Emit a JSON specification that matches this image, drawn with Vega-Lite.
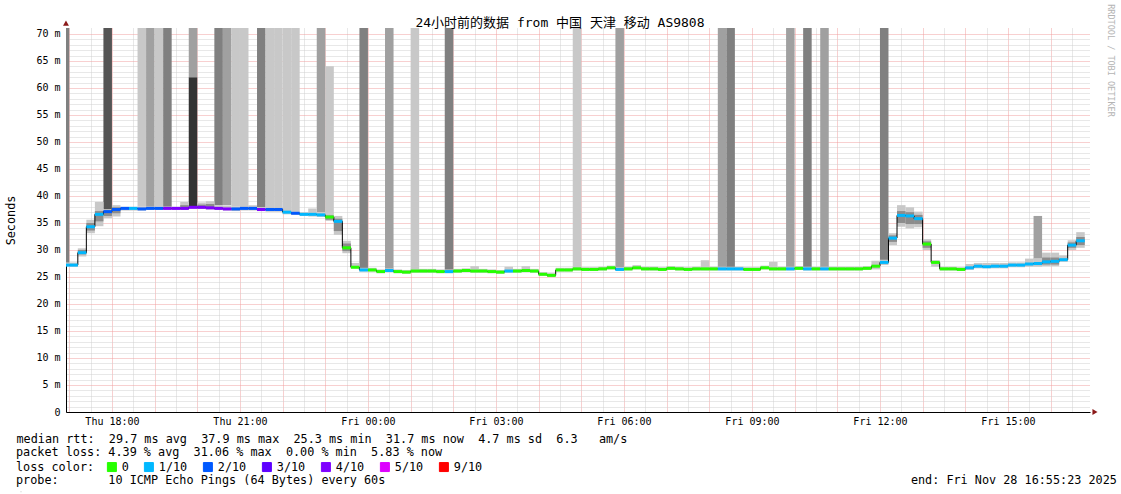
{
"$schema":"https://vega.github.io/schema/vega-lite/v6.json",
"width":1024,"height":384,
"autosize":{"type":"none"},
"padding":{"left":66,"top":28,"right":31,"bottom":82},
"background":"#ffffff",
"title":{"text":"24小时前的数据 from 中国 天津 移动 AS9808","font":"DejaVu Sans Mono, Noto Sans CJK SC","fontSize":13,"fontWeight":"normal","color":"#000000","anchor":"middle","dx":-18,"dy":29,"offset":3},
"datasets":{
"steps":[
{"t":"2025-11-27T16:48","u":"2025-11-27T17:00","m":27.2,"c":"1/10","lo":27.0,"hi":27.7},
{"t":"2025-11-27T17:00","u":"2025-11-27T17:12","m":27.2,"c":"1/10","lo":26.9,"hi":27.7},
{"t":"2025-11-27T17:12","u":"2025-11-27T17:24","m":29.5,"c":"1/10","lo":28.8,"hi":30.3,"l2":29.2,"h2":30.0},
{"t":"2025-11-27T17:24","u":"2025-11-27T17:36","m":34.3,"c":"1/10","lo":33.1,"hi":35.6,"l2":33.6,"h2":35.0},
{"t":"2025-11-27T17:36","u":"2025-11-27T17:48","m":36.6,"c":"1/10","lo":34.4,"hi":38.9,"l2":35.3,"h2":37.2},
{"t":"2025-11-27T17:48","u":"2025-11-27T18:00","m":37.1,"c":"2/10","lo":35.9,"hi":37.5,"l2":36.3,"h2":37.3},
{"t":"2025-11-27T18:00","u":"2025-11-27T18:12","m":37.5,"c":"2/10","lo":36.2,"hi":38.3,"l2":36.8,"h2":37.9},
{"t":"2025-11-27T18:12","u":"2025-11-27T18:24","m":37.7,"c":"2/10","lo":37.3,"hi":38.0},
{"t":"2025-11-27T18:24","u":"2025-11-27T18:36","m":37.7,"c":"1/10","lo":37.3,"hi":38.0},
{"t":"2025-11-27T18:36","u":"2025-11-27T18:48","m":37.6,"c":"2/10","lo":37.3,"hi":38.0},
{"t":"2025-11-27T18:48","u":"2025-11-27T19:00","m":37.7,"c":"2/10","lo":37.4,"hi":38.0},
{"t":"2025-11-27T19:00","u":"2025-11-27T19:12","m":37.7,"c":"2/10","lo":37.4,"hi":38.0},
{"t":"2025-11-27T19:12","u":"2025-11-27T19:24","m":37.7,"c":"4/10","lo":37.4,"hi":38.0},
{"t":"2025-11-27T19:24","u":"2025-11-27T19:36","m":37.7,"c":"4/10","lo":37.4,"hi":38.0},
{"t":"2025-11-27T19:36","u":"2025-11-27T19:48","m":37.7,"c":"4/10","lo":37.4,"hi":38.9,"l2":37.5,"h2":38.3},
{"t":"2025-11-27T19:48","u":"2025-11-27T20:00","m":37.9,"c":"4/10","lo":37.6,"hi":38.1},
{"t":"2025-11-27T20:00","u":"2025-11-27T20:12","m":37.9,"c":"4/10","lo":37.6,"hi":38.8,"l2":37.7,"h2":38.4},
{"t":"2025-11-27T20:12","u":"2025-11-27T20:24","m":37.8,"c":"4/10","lo":37.5,"hi":39.0,"l2":37.6,"h2":38.5},
{"t":"2025-11-27T20:24","u":"2025-11-27T20:36","m":37.7,"c":"4/10","lo":37.4,"hi":38.3},
{"t":"2025-11-27T20:36","u":"2025-11-27T20:48","m":37.6,"c":"4/10","lo":37.3,"hi":38.2},
{"t":"2025-11-27T20:48","u":"2025-11-27T21:00","m":37.6,"c":"2/10","lo":37.2,"hi":38.0},
{"t":"2025-11-27T21:00","u":"2025-11-27T21:12","m":37.7,"c":"2/10","lo":37.3,"hi":38.2},
{"t":"2025-11-27T21:12","u":"2025-11-27T21:24","m":37.7,"c":"2/10","lo":37.3,"hi":38.3},
{"t":"2025-11-27T21:24","u":"2025-11-27T21:36","m":37.5,"c":"4/10","lo":37.2,"hi":37.9},
{"t":"2025-11-27T21:36","u":"2025-11-27T21:48","m":37.5,"c":"2/10","lo":37.1,"hi":37.9},
{"t":"2025-11-27T21:48","u":"2025-11-27T22:00","m":37.5,"c":"2/10","lo":37.1,"hi":37.9},
{"t":"2025-11-27T22:00","u":"2025-11-27T22:12","m":37.0,"c":"1/10","lo":36.6,"hi":37.5},
{"t":"2025-11-27T22:12","u":"2025-11-27T22:24","m":36.8,"c":"2/10","lo":36.5,"hi":37.1},
{"t":"2025-11-27T22:24","u":"2025-11-27T22:36","m":36.6,"c":"1/10","lo":36.3,"hi":37.0},
{"t":"2025-11-27T22:36","u":"2025-11-27T22:48","m":36.6,"c":"1/10","lo":36.2,"hi":37.7},
{"t":"2025-11-27T22:48","u":"2025-11-27T23:00","m":36.5,"c":"1/10","lo":36.1,"hi":37.0},
{"t":"2025-11-27T23:00","u":"2025-11-27T23:12","m":36.1,"c":"0","lo":35.4,"hi":36.8,"l2":35.6,"h2":36.4},
{"t":"2025-11-27T23:12","u":"2025-11-27T23:24","m":35.3,"c":"1/10","lo":32.8,"hi":36.3,"l2":33.5,"h2":35.8},
{"t":"2025-11-27T23:24","u":"2025-11-27T23:36","m":30.4,"c":"0","lo":29.4,"hi":31.7,"l2":29.8,"h2":31.2},
{"t":"2025-11-27T23:36","u":"2025-11-27T23:48","m":26.8,"c":"0","lo":26.6,"hi":27.6},
{"t":"2025-11-27T23:48","u":"2025-11-28T00:00","m":26.3,"c":"1/10","lo":26.0,"hi":26.7},
{"t":"2025-11-28T00:00","u":"2025-11-28T00:12","m":26.3,"c":"0","lo":26.0,"hi":26.7},
{"t":"2025-11-28T00:12","u":"2025-11-28T00:24","m":26.0,"c":"0","lo":25.7,"hi":26.4},
{"t":"2025-11-28T00:24","u":"2025-11-28T00:36","m":26.2,"c":"1/10","lo":25.9,"hi":26.6},
{"t":"2025-11-28T00:36","u":"2025-11-28T00:48","m":26.0,"c":"0","lo":25.7,"hi":26.4},
{"t":"2025-11-28T00:48","u":"2025-11-28T01:00","m":25.9,"c":"0","lo":25.6,"hi":26.3},
{"t":"2025-11-28T01:00","u":"2025-11-28T01:12","m":26.1,"c":"0","lo":25.8,"hi":26.5},
{"t":"2025-11-28T01:12","u":"2025-11-28T01:24","m":26.1,"c":"0","lo":25.8,"hi":26.5},
{"t":"2025-11-28T01:24","u":"2025-11-28T01:36","m":26.1,"c":"0","lo":25.8,"hi":26.5},
{"t":"2025-11-28T01:36","u":"2025-11-28T01:48","m":26.0,"c":"0","lo":25.7,"hi":26.4},
{"t":"2025-11-28T01:48","u":"2025-11-28T02:00","m":26.0,"c":"1/10","lo":25.7,"hi":26.4},
{"t":"2025-11-28T02:00","u":"2025-11-28T02:12","m":26.1,"c":"0","lo":25.8,"hi":26.5},
{"t":"2025-11-28T02:12","u":"2025-11-28T02:24","m":26.2,"c":"0","lo":25.9,"hi":26.6},
{"t":"2025-11-28T02:24","u":"2025-11-28T02:36","m":26.1,"c":"0","lo":25.8,"hi":27.0},
{"t":"2025-11-28T02:36","u":"2025-11-28T02:48","m":26.1,"c":"0","lo":25.8,"hi":26.5},
{"t":"2025-11-28T02:48","u":"2025-11-28T03:00","m":26.0,"c":"0","lo":25.7,"hi":26.4},
{"t":"2025-11-28T03:00","u":"2025-11-28T03:12","m":25.9,"c":"0","lo":25.6,"hi":26.3},
{"t":"2025-11-28T03:12","u":"2025-11-28T03:24","m":26.1,"c":"1/10","lo":25.8,"hi":26.9},
{"t":"2025-11-28T03:24","u":"2025-11-28T03:36","m":26.1,"c":"0","lo":25.8,"hi":26.5},
{"t":"2025-11-28T03:36","u":"2025-11-28T03:48","m":26.2,"c":"0","lo":25.9,"hi":27.0},
{"t":"2025-11-28T03:48","u":"2025-11-28T04:00","m":26.1,"c":"0","lo":25.8,"hi":26.5},
{"t":"2025-11-28T04:00","u":"2025-11-28T04:12","m":25.5,"c":"0","lo":25.2,"hi":25.9},
{"t":"2025-11-28T04:12","u":"2025-11-28T04:24","m":25.3,"c":"0","lo":25.0,"hi":25.7},
{"t":"2025-11-28T04:24","u":"2025-11-28T04:36","m":26.3,"c":"0","lo":26.0,"hi":26.7},
{"t":"2025-11-28T04:36","u":"2025-11-28T04:48","m":26.3,"c":"0","lo":26.0,"hi":26.7},
{"t":"2025-11-28T04:48","u":"2025-11-28T05:00","m":26.5,"c":"0","lo":26.2,"hi":26.9},
{"t":"2025-11-28T05:00","u":"2025-11-28T05:12","m":26.4,"c":"0","lo":26.1,"hi":26.8},
{"t":"2025-11-28T05:12","u":"2025-11-28T05:24","m":26.4,"c":"0","lo":26.1,"hi":26.8},
{"t":"2025-11-28T05:24","u":"2025-11-28T05:36","m":26.5,"c":"0","lo":26.2,"hi":26.9},
{"t":"2025-11-28T05:36","u":"2025-11-28T05:48","m":26.7,"c":"0","lo":26.4,"hi":27.1},
{"t":"2025-11-28T05:48","u":"2025-11-28T06:00","m":26.4,"c":"1/10","lo":26.1,"hi":26.8},
{"t":"2025-11-28T06:00","u":"2025-11-28T06:12","m":26.5,"c":"0","lo":26.2,"hi":26.9},
{"t":"2025-11-28T06:12","u":"2025-11-28T06:24","m":26.7,"c":"0","lo":26.4,"hi":27.2},
{"t":"2025-11-28T06:24","u":"2025-11-28T06:36","m":26.5,"c":"0","lo":26.2,"hi":26.9},
{"t":"2025-11-28T06:36","u":"2025-11-28T06:48","m":26.5,"c":"0","lo":26.2,"hi":26.9},
{"t":"2025-11-28T06:48","u":"2025-11-28T07:00","m":26.4,"c":"0","lo":26.1,"hi":26.8},
{"t":"2025-11-28T07:00","u":"2025-11-28T07:12","m":26.6,"c":"0","lo":26.3,"hi":27.0},
{"t":"2025-11-28T07:12","u":"2025-11-28T07:24","m":26.5,"c":"0","lo":26.2,"hi":26.9},
{"t":"2025-11-28T07:24","u":"2025-11-28T07:36","m":26.4,"c":"0","lo":26.1,"hi":26.8},
{"t":"2025-11-28T07:36","u":"2025-11-28T07:48","m":26.5,"c":"0","lo":26.2,"hi":26.9},
{"t":"2025-11-28T07:48","u":"2025-11-28T08:00","m":26.5,"c":"0","lo":26.2,"hi":28.1},
{"t":"2025-11-28T08:00","u":"2025-11-28T08:12","m":26.5,"c":"0","lo":26.2,"hi":26.9},
{"t":"2025-11-28T08:12","u":"2025-11-28T08:24","m":26.5,"c":"1/10","lo":26.2,"hi":26.9},
{"t":"2025-11-28T08:24","u":"2025-11-28T08:36","m":26.5,"c":"1/10","lo":26.2,"hi":26.9},
{"t":"2025-11-28T08:36","u":"2025-11-28T08:48","m":26.5,"c":"1/10","lo":26.2,"hi":26.9},
{"t":"2025-11-28T08:48","u":"2025-11-28T09:00","m":26.4,"c":"0","lo":26.1,"hi":26.8},
{"t":"2025-11-28T09:00","u":"2025-11-28T09:12","m":26.4,"c":"0","lo":26.1,"hi":26.8},
{"t":"2025-11-28T09:12","u":"2025-11-28T09:24","m":26.7,"c":"0","lo":26.4,"hi":27.1},
{"t":"2025-11-28T09:24","u":"2025-11-28T09:36","m":26.5,"c":"0","lo":26.2,"hi":27.8},
{"t":"2025-11-28T09:36","u":"2025-11-28T09:48","m":26.5,"c":"0","lo":26.2,"hi":26.9},
{"t":"2025-11-28T09:48","u":"2025-11-28T10:00","m":26.5,"c":"1/10","lo":26.2,"hi":26.9},
{"t":"2025-11-28T10:00","u":"2025-11-28T10:12","m":26.6,"c":"0","lo":26.3,"hi":27.0},
{"t":"2025-11-28T10:12","u":"2025-11-28T10:24","m":26.5,"c":"1/10","lo":26.2,"hi":26.9},
{"t":"2025-11-28T10:24","u":"2025-11-28T10:36","m":26.5,"c":"0","lo":26.2,"hi":26.9},
{"t":"2025-11-28T10:36","u":"2025-11-28T10:48","m":26.5,"c":"1/10","lo":26.2,"hi":26.9},
{"t":"2025-11-28T10:48","u":"2025-11-28T11:00","m":26.5,"c":"0","lo":26.2,"hi":26.9},
{"t":"2025-11-28T11:00","u":"2025-11-28T11:12","m":26.5,"c":"0","lo":26.2,"hi":26.9},
{"t":"2025-11-28T11:12","u":"2025-11-28T11:24","m":26.5,"c":"0","lo":26.2,"hi":26.9},
{"t":"2025-11-28T11:24","u":"2025-11-28T11:36","m":26.5,"c":"0","lo":26.2,"hi":26.9},
{"t":"2025-11-28T11:36","u":"2025-11-28T11:48","m":26.6,"c":"0","lo":26.3,"hi":27.0},
{"t":"2025-11-28T11:48","u":"2025-11-28T12:00","m":27.0,"c":"0","lo":26.4,"hi":28.0},
{"t":"2025-11-28T12:00","u":"2025-11-28T12:12","m":27.7,"c":"1/10","lo":27.2,"hi":28.2},
{"t":"2025-11-28T12:12","u":"2025-11-28T12:24","m":32.2,"c":"1/10","lo":30.9,"hi":33.1,"l2":31.5,"h2":32.7},
{"t":"2025-11-28T12:24","u":"2025-11-28T12:36","m":36.4,"c":"1/10","lo":34.3,"hi":38.3,"l2":35.0,"h2":37.2},
{"t":"2025-11-28T12:36","u":"2025-11-28T12:48","m":36.3,"c":"1/10","lo":34.0,"hi":37.9,"l2":34.8,"h2":37.0},
{"t":"2025-11-28T12:48","u":"2025-11-28T13:00","m":35.8,"c":"1/10","lo":34.2,"hi":37.1,"l2":34.8,"h2":36.5},
{"t":"2025-11-28T13:00","u":"2025-11-28T13:12","m":31.1,"c":"0","lo":30.0,"hi":32.0,"l2":30.4,"h2":31.6},
{"t":"2025-11-28T13:12","u":"2025-11-28T13:24","m":27.7,"c":"0","lo":26.9,"hi":28.1},
{"t":"2025-11-28T13:24","u":"2025-11-28T13:36","m":26.5,"c":"0","lo":26.2,"hi":26.9},
{"t":"2025-11-28T13:36","u":"2025-11-28T13:48","m":26.5,"c":"0","lo":26.2,"hi":26.9},
{"t":"2025-11-28T13:48","u":"2025-11-28T14:00","m":26.4,"c":"0","lo":26.1,"hi":26.8},
{"t":"2025-11-28T14:00","u":"2025-11-28T14:12","m":26.7,"c":"1/10","lo":26.3,"hi":27.4},
{"t":"2025-11-28T14:12","u":"2025-11-28T14:24","m":27.0,"c":"1/10","lo":26.6,"hi":27.6},
{"t":"2025-11-28T14:24","u":"2025-11-28T14:36","m":26.9,"c":"1/10","lo":26.6,"hi":27.6},
{"t":"2025-11-28T14:36","u":"2025-11-28T14:48","m":27.0,"c":"1/10","lo":26.6,"hi":27.6},
{"t":"2025-11-28T14:48","u":"2025-11-28T15:00","m":27.0,"c":"1/10","lo":26.6,"hi":27.6},
{"t":"2025-11-28T15:00","u":"2025-11-28T15:12","m":27.2,"c":"1/10","lo":26.8,"hi":27.7},
{"t":"2025-11-28T15:12","u":"2025-11-28T15:24","m":27.2,"c":"1/10","lo":26.8,"hi":27.7},
{"t":"2025-11-28T15:24","u":"2025-11-28T15:36","m":27.4,"c":"1/10","lo":26.9,"hi":28.4},
{"t":"2025-11-28T15:36","u":"2025-11-28T15:48","m":27.5,"c":"1/10","lo":26.9,"hi":28.5},
{"t":"2025-11-28T15:48","u":"2025-11-28T16:00","m":27.8,"c":"1/10","lo":27.0,"hi":29.5,"l2":27.3,"h2":28.6},
{"t":"2025-11-28T16:00","u":"2025-11-28T16:12","m":27.9,"c":"1/10","lo":27.0,"hi":29.5,"l2":27.3,"h2":28.6},
{"t":"2025-11-28T16:12","u":"2025-11-28T16:24","m":28.2,"c":"1/10","lo":27.8,"hi":29.0},
{"t":"2025-11-28T16:24","u":"2025-11-28T16:36","m":30.9,"c":"1/10","lo":30.0,"hi":31.8,"l2":30.4,"h2":31.4},
{"t":"2025-11-28T16:36","u":"2025-11-28T16:48","m":31.7,"c":"1/10","lo":30.4,"hi":33.3,"l2":30.9,"h2":32.4}
],
"spikes":[
{"t":"2025-11-27T16:48","u":"2025-11-27T17:00","b":27.5,"e":75,"s":3},
{"t":"2025-11-27T17:48","u":"2025-11-27T18:00","b":37.5,"e":75,"s":4},
{"t":"2025-11-27T18:36","u":"2025-11-27T18:48","b":38.0,"e":75,"s":1},
{"t":"2025-11-27T18:48","u":"2025-11-27T19:00","b":38.0,"e":75,"s":2},
{"t":"2025-11-27T19:00","u":"2025-11-27T19:12","b":38.0,"e":75,"s":1},
{"t":"2025-11-27T19:12","u":"2025-11-27T19:24","b":38.0,"e":75,"s":3},
{"t":"2025-11-27T19:48","u":"2025-11-27T20:00","b":38.0,"e":62.0,"s":5},
{"t":"2025-11-27T19:48","u":"2025-11-27T20:00","b":62.0,"e":75,"s":2},
{"t":"2025-11-27T20:24","u":"2025-11-27T20:36","b":38.3,"e":75,"s":3},
{"t":"2025-11-27T20:36","u":"2025-11-27T20:48","b":38.3,"e":75,"s":2},
{"t":"2025-11-27T20:48","u":"2025-11-27T21:00","b":38.0,"e":75,"s":1},
{"t":"2025-11-27T21:00","u":"2025-11-27T21:12","b":38.0,"e":75,"s":1},
{"t":"2025-11-27T21:24","u":"2025-11-27T21:36","b":37.9,"e":75,"s":3},
{"t":"2025-11-27T21:36","u":"2025-11-27T21:48","b":37.8,"e":75,"s":1},
{"t":"2025-11-27T21:48","u":"2025-11-27T22:00","b":37.8,"e":75,"s":1},
{"t":"2025-11-27T22:00","u":"2025-11-27T22:12","b":37.4,"e":75,"s":1},
{"t":"2025-11-27T22:12","u":"2025-11-27T22:24","b":37.1,"e":75,"s":1},
{"t":"2025-11-27T22:48","u":"2025-11-27T23:00","b":37.0,"e":75,"s":2},
{"t":"2025-11-27T23:00","u":"2025-11-27T23:12","b":36.7,"e":64.0,"s":1},
{"t":"2025-11-27T23:48","u":"2025-11-28T00:00","b":26.6,"e":75,"s":3},
{"t":"2025-11-28T00:24","u":"2025-11-28T00:36","b":26.5,"e":75,"s":2},
{"t":"2025-11-28T01:00","u":"2025-11-28T01:12","b":26.5,"e":75,"s":1},
{"t":"2025-11-28T01:48","u":"2025-11-28T02:00","b":26.3,"e":75,"s":3},
{"t":"2025-11-28T04:48","u":"2025-11-28T05:00","b":26.8,"e":75,"s":1},
{"t":"2025-11-28T05:48","u":"2025-11-28T06:00","b":26.7,"e":75,"s":2},
{"t":"2025-11-28T08:12","u":"2025-11-28T08:24","b":26.8,"e":75,"s":2},
{"t":"2025-11-28T08:24","u":"2025-11-28T08:36","b":26.8,"e":75,"s":3},
{"t":"2025-11-28T09:48","u":"2025-11-28T10:00","b":26.8,"e":75,"s":2},
{"t":"2025-11-28T10:12","u":"2025-11-28T10:24","b":26.8,"e":75,"s":3},
{"t":"2025-11-28T10:36","u":"2025-11-28T10:48","b":26.8,"e":75,"s":2},
{"t":"2025-11-28T12:00","u":"2025-11-28T12:12","b":28.0,"e":75,"s":3},
{"t":"2025-11-28T15:36","u":"2025-11-28T15:48","b":28.0,"e":36.3,"s":2}
]
},
"layer":[
{"data":{"name":"spikes"},
 "mark":{"type":"bar","clip":true},
 "encoding":{
  "x":{"field":"t","type":"temporal",
   "scale":{"domain":[{"year":2025,"month":11,"date":27,"hours":16,"minutes":55,"seconds":23},{"year":2025,"month":11,"date":28,"hours":16,"minutes":55,"seconds":23}]},
   "axis":{"tickCount":48,
    "labelExpr":"minutes(datum.value)==0 && hours(datum.value)%3==0 ? timeFormat(datum.value, '%a %H:%M') : ''",
    "labelFont":"DejaVu Sans Mono","labelFontSize":10,"labelColor":"#000000","labelOverlap":false,"labelFlush":false,"labelPadding":4,
    "ticks":false,
    "gridColor":{"condition":{"test":"minutes(datum.value)==0","value":"#f0a0a0"},"value":"#d0d0d0"},
    "gridDash":[1,1],"domainColor":"#000000",
    "title":"median\u00a0rtt:\u00a0\u00a029.7\u00a0ms\u00a0avg\u00a0\u00a037.9\u00a0ms\u00a0max\u00a0\u00a025.3\u00a0ms\u00a0min\u00a0\u00a031.7\u00a0ms\u00a0now\u00a0\u00a04.7\u00a0ms\u00a0sd\u00a0\u00a06.3\u00a0\u00a0\u00a0am/s",
    "titleFont":"DejaVu Sans Mono","titleFontSize":11.8,"titleFontWeight":"normal","titleColor":"#000000",
    "titleAnchor":"start","titleAlign":"left","titleBaseline":"top","titleX":-50,"titleY":21}},
  "x2":{"field":"u"},
  "y":{"field":"b","type":"quantitative","scale":{"domain":[0,71.1],"nice":false,"zero":false},
   "axis":{"values":[0,1,2,3,4,5,6,7,8,9,10,11,12,13,14,15,16,17,18,19,20,21,22,23,24,25,26,27,28,29,30,31,32,33,34,35,36,37,38,39,40,41,42,43,44,45,46,47,48,49,50,51,52,53,54,55,56,57,58,59,60,61,62,63,64,65,66,67,68,69,70],
    "labelExpr":"datum.value % 5 == 0 ? (datum.value == 0 ? '0\u00a0\u00a0' : datum.value + '\u00a0m') : ''",
    "labelFont":"DejaVu Sans Mono","labelFontSize":10,"labelColor":"#000000","labelOverlap":false,"labelFlush":false,"labelPadding":6,
    "ticks":false,"domainColor":"#000000",
    "gridColor":{"condition":{"test":"datum.value % 5 == 0","value":"#f0a0a0"},"value":"#d0d0d0"},"gridDash":[1,1],
    "title":"Seconds","titleFont":"DejaVu Sans Mono","titleFontSize":11.8,"titleFontWeight":"normal","titleColor":"#000000",
    "titleX":-56,"titleY":192,"titleAngle":270,"titleAlign":"center","titleBaseline":"middle"}},
  "y2":{"field":"e"},
  "fill":{"field":"s","type":"ordinal","scale":{"domain":[1,2,3,4,5],"range":["#c8c8c8","#a0a0a0","#808080","#555555","#333333"]},
   "legend":{"orient":"none","legendX":-50,"legendY":419,"padding":0,"direction":"vertical",
    "title":"packet\u00a0loss:\u00a04.39\u00a0%\u00a0avg\u00a0\u00a031.06\u00a0%\u00a0max\u00a0\u00a00.00\u00a0%\u00a0min\u00a0\u00a05.83\u00a0%\u00a0now",
    "titleFont":"DejaVu Sans Mono","titleFontSize":11.8,"titleFontWeight":"normal","titleColor":"#000000","titleLimit":2000,"titlePadding":0,
    "symbolOpacity":0,"symbolSize":1,"labelExpr":"''","labelOpacity":0}}
 }},
{"data":{"name":"steps"},
 "mark":{"type":"bar","clip":true,"color":"#c8c8c8"},
 "encoding":{
  "x":{"field":"t","type":"temporal","scale":{"domain":[{"year":2025,"month":11,"date":27,"hours":16,"minutes":55,"seconds":23},{"year":2025,"month":11,"date":28,"hours":16,"minutes":55,"seconds":23}]}},
  "x2":{"field":"u"},
  "y":{"field":"lo","type":"quantitative","axis":null,"scale":{"domain":[0,71.1],"nice":false,"zero":false}},
  "y2":{"field":"hi"},
  "opacity":{"field":"hi","type":"quantitative","scale":{"range":[1,1]},
   "legend":{"orient":"none","legendX":-50,"legendY":447,"padding":0,"direction":"vertical",
    "title":"probe:\u00a0\u00a0\u00a0\u00a0\u00a0\u00a0\u00a010\u00a0ICMP\u00a0Echo\u00a0Pings\u00a0(64\u00a0Bytes)\u00a0every\u00a060s\u00a0\u00a0\u00a0\u00a0\u00a0\u00a0\u00a0\u00a0\u00a0\u00a0\u00a0\u00a0\u00a0\u00a0\u00a0\u00a0\u00a0\u00a0\u00a0\u00a0\u00a0\u00a0\u00a0\u00a0\u00a0\u00a0\u00a0\u00a0\u00a0\u00a0\u00a0\u00a0\u00a0\u00a0\u00a0\u00a0\u00a0\u00a0\u00a0\u00a0\u00a0\u00a0\u00a0\u00a0\u00a0\u00a0\u00a0\u00a0\u00a0\u00a0\u00a0\u00a0\u00a0\u00a0\u00a0\u00a0\u00a0\u00a0\u00a0\u00a0\u00a0\u00a0\u00a0\u00a0\u00a0\u00a0\u00a0\u00a0\u00a0\u00a0\u00a0\u00a0\u00a0\u00a0end:\u00a0Fri\u00a0Nov\u00a028\u00a016:55:23\u00a02025",
    "titleFont":"DejaVu Sans Mono","titleFontSize":11.8,"titleFontWeight":"normal","titleColor":"#000000","titleLimit":2000,"titlePadding":0,
    "symbolOpacity":0,"symbolSize":1,"labelExpr":"''","labelOpacity":0}}
 }},
{"data":{"name":"steps"},
 "transform":[{"filter":"isValid(datum.l2)"}],
 "mark":{"type":"bar","clip":true,"color":"#8c8c8c"},
 "encoding":{
  "x":{"field":"t","type":"temporal","scale":{"domain":[{"year":2025,"month":11,"date":27,"hours":16,"minutes":55,"seconds":23},{"year":2025,"month":11,"date":28,"hours":16,"minutes":55,"seconds":23}]}},
  "x2":{"field":"u"},
  "y":{"field":"l2","type":"quantitative","axis":null,"scale":{"domain":[0,71.1],"nice":false,"zero":false}},
  "y2":{"field":"h2"}
 }},
{"data":{"name":"steps"},
 "mark":{"type":"line","clip":true,"interpolate":"step-after","color":"#000000","strokeWidth":1},
 "encoding":{
  "x":{"field":"t","type":"temporal","scale":{"domain":[{"year":2025,"month":11,"date":27,"hours":16,"minutes":55,"seconds":23},{"year":2025,"month":11,"date":28,"hours":16,"minutes":55,"seconds":23}]}},
  "y":{"field":"m","type":"quantitative","axis":null,"scale":{"domain":[0,71.1],"nice":false,"zero":false}}
 }},
{"data":{"name":"steps"},
 "mark":{"type":"rule","clip":true,"strokeWidth":3,"strokeCap":"butt"},
 "encoding":{
  "x":{"field":"t","type":"temporal","scale":{"domain":[{"year":2025,"month":11,"date":27,"hours":16,"minutes":55,"seconds":23},{"year":2025,"month":11,"date":28,"hours":16,"minutes":55,"seconds":23}]}},
  "x2":{"field":"u"},
  "y":{"field":"m","type":"quantitative","scale":{"domain":[0,71.1],"nice":false,"zero":false},
   "axis":{"orient":"right","labels":false,"ticks":false,"domain":false,"grid":false,
    "title":"RRDTOOL / TOBI OETIKER","titleFont":"DejaVu Sans Mono","titleFontSize":8.5,"titleFontWeight":"normal","titleColor":"#b4b4b4",
    "titleAngle":90,"titleX":20,"titleY":32,"titleAlign":"center","titleBaseline":"middle"}},
  "color":{"field":"c","type":"nominal",
   "scale":{"domain":["0","1/10","2/10","3/10","4/10","5/10","9/10"],"range":["#26ff00","#00b8ff","#0059ff","#5e00ff","#7e00ff","#dd00ff","#ff0000"]},
   "legend":{"orient":"none","legendX":-50,"legendY":433,"direction":"horizontal","padding":0,
    "title":"loss\u00a0color:","titleOrient":"left","titleFont":"DejaVu Sans Mono","titleFontSize":11.8,"titleFontWeight":"normal","titleColor":"#000000","titlePadding":11,"titleLimit":500,
    "labelFont":"DejaVu Sans Mono","labelFontSize":11.8,"labelColor":"#000000","labelOffset":4,"columnPadding":13,
    "symbolType":"square","symbolSize":81,
    "encode":{"symbols":{"update":{"shape":{"value":"square"},"fill":{"scale":"color","field":"value"},"stroke":{"value":"#000000"},"strokeWidth":{"value":1},"size":{"value":81},"opacity":{"value":1},"fillOpacity":{"value":1}}}}}}
 }},
{"data":{"values":[{}]},
 "mark":{"type":"point","shape":"triangle-up","filled":true,"color":"#8b1a1a","size":35,"opacity":1,"clip":false},
 "encoding":{
  "x":{"datum":{"year":2025,"month":11,"date":27,"hours":16,"minutes":55,"seconds":23},"type":"temporal","scale":{"domain":[{"year":2025,"month":11,"date":27,"hours":16,"minutes":55,"seconds":23},{"year":2025,"month":11,"date":28,"hours":16,"minutes":55,"seconds":23}]}},
  "y":{"datum":72.0,"type":"quantitative","axis":null,"scale":{"domain":[0,71.1],"nice":false,"zero":false}}
 }},
{"data":{"values":[{}]},
 "mark":{"type":"point","shape":"triangle-right","filled":true,"color":"#8b1a1a","size":35,"opacity":1,"clip":false},
 "encoding":{
  "x":{"datum":{"year":2025,"month":11,"date":28,"hours":17,"minutes":2,"seconds":23},"type":"temporal","scale":{"domain":[{"year":2025,"month":11,"date":27,"hours":16,"minutes":55,"seconds":23},{"year":2025,"month":11,"date":28,"hours":16,"minutes":55,"seconds":23}]}},
  "y":{"datum":0,"type":"quantitative","axis":null,"scale":{"domain":[0,71.1],"nice":false,"zero":false}}
 }}
],
"resolve":{"axis":{"y":"independent"}},
"config":{"view":{"stroke":null}}
}
